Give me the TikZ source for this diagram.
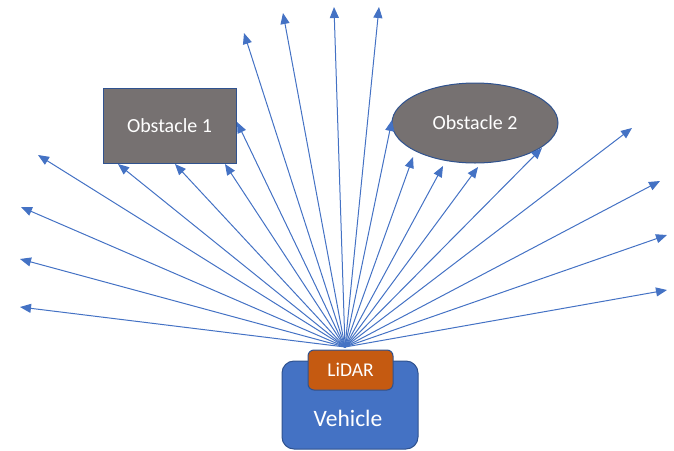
\documentclass[tikz,border=0pt]{standalone}
\usepackage{fontspec}
\setmainfont{Carlito}
\usetikzlibrary{arrows.meta,shapes.geometric}

\begin{document}
\begin{tikzpicture}
		[x=1pt,y=-1pt,line cap=round,
		%Styles
		ray/.style={draw=raycolor,line width=1pt,-{Triangle[length=11pt,width=9pt]}},
		vehicle box/.style={rectangle,rounded corners=12pt,fill=raycolor,draw=edgecolor,line width=1pt,minimum width=136pt,minimum height=88pt},
		sensor box/.style={rectangle,rounded corners=6pt,fill=sensorcolor,draw=edgecolor,line width=1pt,minimum width=85pt,minimum height=40pt,text=white,font=\fontsize{19.5}{21}\selectfont},
		obstacle/.style={fill=obstaclecolor,draw=edgecolor,line width=1pt,text=white,font=\fontsize{20}{22}\selectfont},
		big text/.style={text=white,font=\fontsize{23.5}{26}\selectfont}
		]
		
		%Colors
		\definecolor{raycolor}{HTML}{4472C4}
		\definecolor{edgecolor}{HTML}{2F528F}
		\definecolor{sensorcolor}{HTML}{C55A11}
		\definecolor{obstaclecolor}{HTML}{767171}
		
		\useasboundingbox (0,0) rectangle (674,450);
		
		%The graphic
		\node[obstacle,rectangle,minimum width=133pt,minimum height=75pt] (obs1) at (169.5,125.5) {Obstacle 1};
		\node[obstacle,ellipse,minimum width=166pt,minimum height=80pt,inner sep=0pt] (obs2) at (475,123) {Obstacle 2};
		
		\node[vehicle box] (vehicle) at (350,405) {};
		\node[big text] (vehiclelabel) at (348,418) {Vehicle};
		\node[sensor box] (lidar) at (350.5,370) {LiDAR};
		\coordinate (src) at (345,347);
		
		%Ray ends
		\foreach \name/\x/\y in {l1/20/307, l2/20/259, l3/21/207, l4/38/155,
				o1a/118/164, o1b/175/164, o1c/225/164, o1d/237/122,
				t1/244/33, t2/283/13, t3/334/7, t4/379/7,
				o2a/392/120, o2b/413/157, o2c/443/166, o2d/478/167, o2e/542/148,
				r1/632/128, r2/660/181, r3/667/235, r4/667/290}
			\coordinate (\name) at (\x,\y);
		
		\foreach \name in {l1,l2,l3,l4,o1a,o1b,o1c,o1d,t1,t2,t3,t4,o2a,o2b,o2c,o2d,o2e,r1,r2,r3,r4}
			\draw[ray] (src) -- (\name);
	\end{tikzpicture}
\end{document}
